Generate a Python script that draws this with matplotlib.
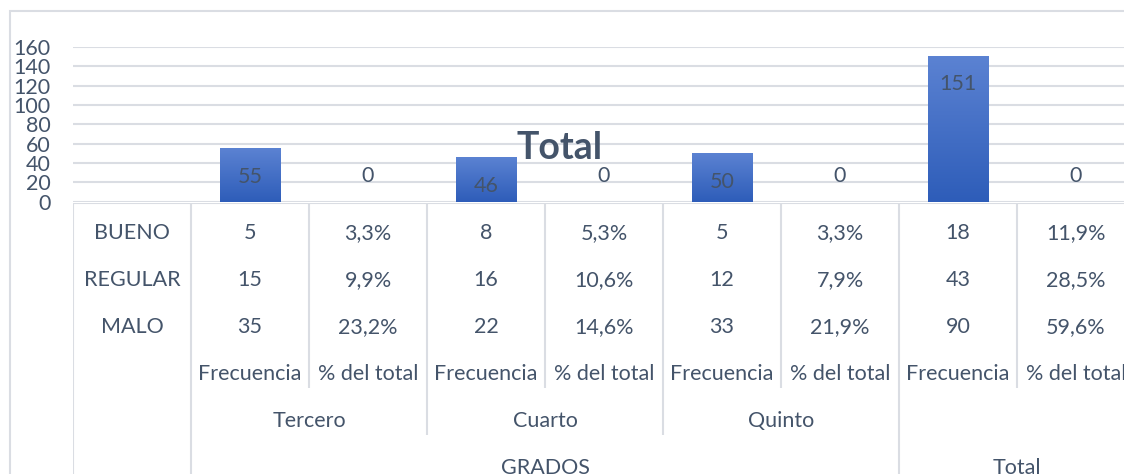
import numpy as np
import matplotlib.pyplot as plt
from matplotlib.patches import Rectangle

# chart data
categories = ['Frecuencia', '% del total'] * 4
bar_values = [55, 0, 46, 0, 50, 0, 151, 0]
row_labels = ['BUENO', 'REGULAR', 'MALO']
table_rows = [
    ['5', '3,3%', '8', '5,3%', '5', '3,3%', '18', '11,9%'],
    ['15', '9,9%', '16', '10,6%', '12', '7,9%', '43', '28,5%'],
    ['35', '23,2%', '22', '14,6%', '33', '21,9%', '90', '59,6%'],
]
grados = ['Tercero', 'Cuarto', 'Quinto']
groups = ['GRADOS', 'Total']
yticks = [0, 20, 40, 60, 80, 100, 120, 140, 160]

TXT = '#44546A'
GRID = '#DADDE3'
FS = 15.5
plt.rcParams['font.family'] = ['Lato', 'DejaVu Sans']

W, H = 1124, 474
fig = plt.figure(figsize=(W / 100, H / 100), dpi=100)

# outer chart frame
fig.patches.append(Rectangle((10 / W, -0.1), 1.2, 1.1 - 11 / H, transform=fig.transFigure,
                             fill=False, ec=GRID, lw=1.5))

x0, x1 = 73, 1135
y_top, y_base = 47, 201.7
ax = fig.add_axes([x0 / W, 1 - y_base / H, (x1 - x0) / W, (y_base - y_top) / H])
x = np.arange(len(bar_values))

# gradient bars
grad = np.linspace(0, 1, 100).reshape(-1, 1)
cmap = plt.matplotlib.colors.LinearSegmentedColormap.from_list('b', ['#2E5DB9', '#5B82D2'])
bars = ax.bar(x, bar_values, width=0.51, color='none', zorder=3)
for b, v in zip(bars, bar_values):
    if v > 0:
        ax.imshow(grad, extent=[b.get_x(), b.get_x() + b.get_width(), 0, v], origin='lower',
                  aspect='auto', cmap=cmap, zorder=3)
for xi, v in zip(x, bar_values):
    off = -20.5 if v > 0 else 18.5
    ax.annotate(str(v), (xi, v), xytext=(0, off), textcoords='offset points',
                ha='center', va='center', fontsize=FS, color=TXT, zorder=4)

ax.set_xlim(-1.5, 7.5)
ax.set_ylim(0, 160)
ax.set_yticks(yticks)
ax.set_xticks([])
ax.tick_params(axis='y', length=0, pad=16, labelsize=FS, labelcolor=TXT)
ax.grid(axis='y', color=GRID, lw=1.5, zorder=0)
for s in ax.spines.values():
    s.set_visible(False)
ax.text(0.4586, 0.347, 'Total', transform=ax.transAxes, ha='center', va='center',
        fontsize=27, fontweight='bold', color=TXT, zorder=5)

# data table below
t_top = 203
rh = 47
tax = fig.add_axes([x0 / W, 0, (x1 - x0) / W, (H - t_top) / H])
tax.set_xlim(-1.5, 7.5)
tax.set_ylim((H - t_top) / rh, 0)
tax.axis('off')
r0 = (233 - t_top) / rh
end3 = (388 - t_top) / rh
end4 = (435 - t_top) / rh
ymax = (H - t_top) / rh

kw = dict(ha='center', va='center', fontsize=FS, color=TXT)
for i, lab in enumerate(row_labels):
    tax.text(-1, r0 + i, lab, **kw)
    for j, val in enumerate(table_rows[i]):
        tax.text(j, r0 + i, val, **kw)
for j, c in enumerate(categories):
    tax.text(j, r0 + 3, c, **kw)
for k, g in enumerate(grados):
    tax.text(2 * k + 0.5, r0 + 4, g, **kw)
tax.text(2.5, r0 + 5, groups[0], **kw)
tax.text(6.5, r0 + 5, groups[1], **kw)

lkw = dict(color=GRID, lw=1.5, solid_capstyle='butt')
tax.plot([-1.5, 7.5], [0, 0], **lkw)
for xb in [-1.5, -0.5, 5.5]:
    tax.plot([xb, xb], [0, ymax], **lkw)
for xb in [1.5, 3.5]:
    tax.plot([xb, xb], [0, end4], **lkw)
for xb in [0.5, 2.5, 4.5, 6.5]:
    tax.plot([xb, xb], [0, end3], **lkw)

fig.savefig('out.png', dpi=100)
